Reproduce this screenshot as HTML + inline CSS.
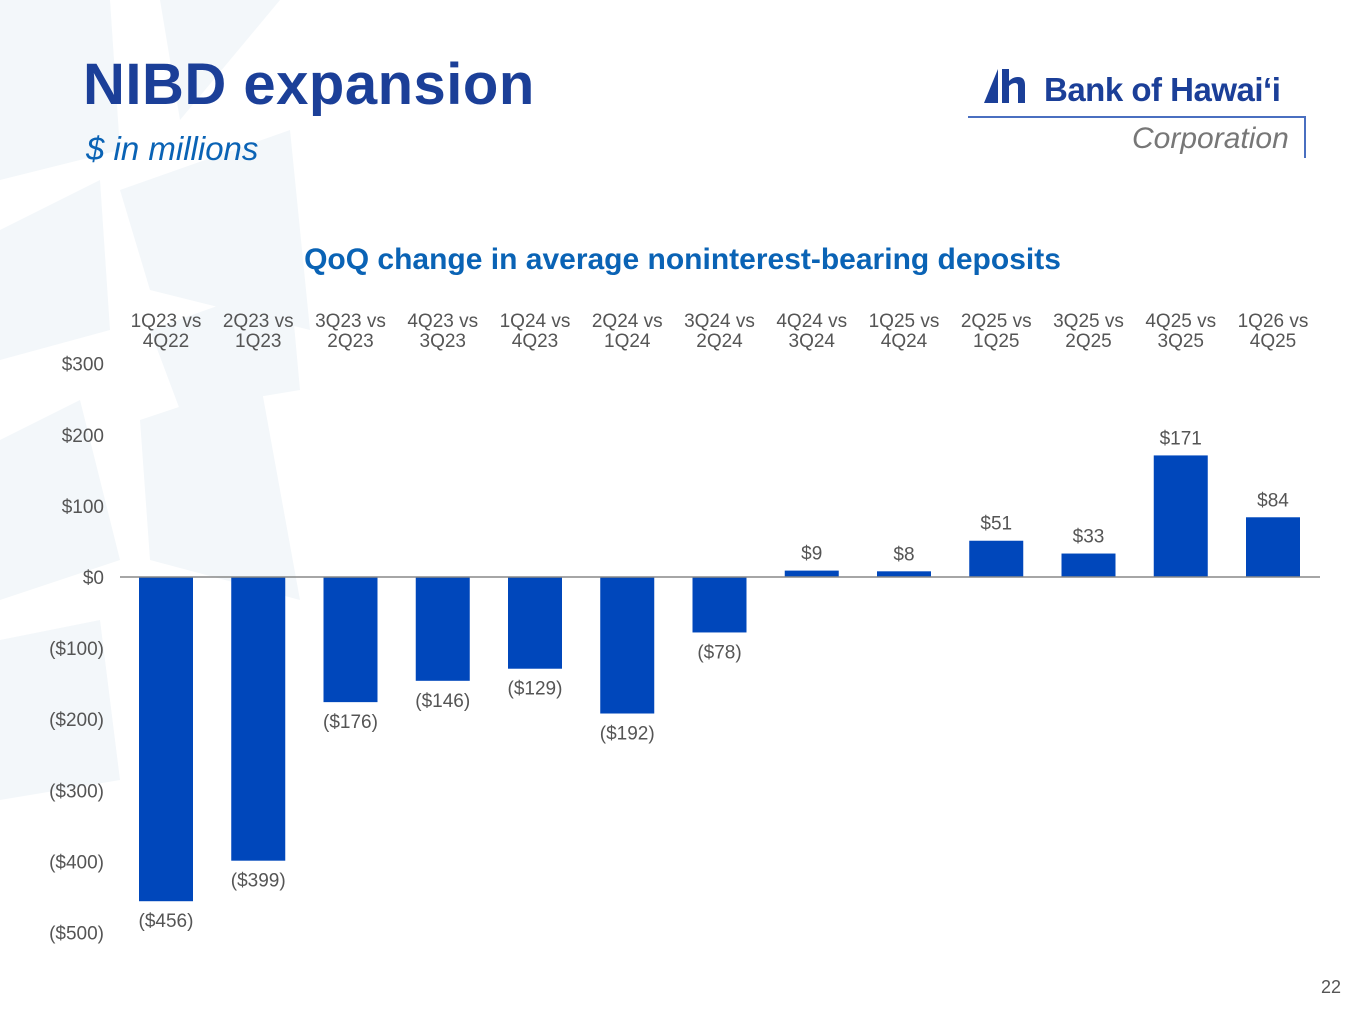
<!DOCTYPE html>
<html><head><meta charset="utf-8"><style>
html,body{margin:0;padding:0}
body{width:1365px;height:1024px;position:relative;overflow:hidden;background:#fff;font-family:"Liberation Sans",sans-serif}
.abs{position:absolute}
</style></head><body>
<svg class="abs" style="left:0;top:0" width="1365" height="1024">
<g fill="#f3f7fa">
<polygon points="0,0 110,0 120,150 0,180"/>
<polygon points="160,0 280,0 180,120"/>
<polygon points="0,230 100,180 110,330 0,360"/>
<polygon points="120,190 290,130 310,330 150,290"/>
<polygon points="0,440 80,400 120,560 0,600"/>
<polygon points="150,330 290,280 300,390 180,410"/>
<polygon points="140,420 260,380 300,600 150,560"/>
<polygon points="0,640 100,620 120,780 0,800"/>
</g>
</svg>
<div class="abs" style="left:83px;top:51px;font-size:58px;font-weight:bold;color:#1b3f98;letter-spacing:0.5px">NIBD expansion</div>
<div class="abs" style="left:86px;top:130px;font-size:33px;font-style:italic;color:#0a63b5">$ in millions</div>
<div class="abs" style="left:968px;top:66px;width:340px;height:95px">
  <svg class="abs" style="left:16px;top:3px" width="46" height="34"><polygon points="0,34 14,0 14,34" fill="#1b3f98"/><path d="M18 0h7v12q4-4 9-4q7 0 7 8v18h-7v-17q0-3-3-3q-3 0-6 3v17h-7z" fill="#1b3f98"/></svg>
  <div class="abs" style="left:76px;top:5px;font-size:33px;font-weight:bold;color:#1b3f98;letter-spacing:-0.5px">Bank of Hawai‘i</div>
  <div class="abs" style="left:0;top:50px;width:338px;height:2px;background:#4a6fc0"></div>
  <div class="abs" style="left:336px;top:50px;width:2px;height:42px;background:#4a6fc0"></div>
  <div class="abs" style="left:164px;top:56px;font-size:30px;font-style:italic;color:#777">Corporation</div>
</div>
<div class="abs" style="left:0;width:1365px;top:243px;text-align:center;font-size:30px;font-weight:bold;color:#0a63b5">QoQ change in average noninterest-bearing deposits</div>
<svg id="chart" class="abs" style="left:0;top:0" width="1365" height="1024"></svg>
<div class="abs" style="left:1321px;top:977px;font-size:18px;color:#555">22</div>
<script>
const categories=["1Q23 vs|4Q22","2Q23 vs|1Q23","3Q23 vs|2Q23","4Q23 vs|3Q23","1Q24 vs|4Q23","2Q24 vs|1Q24","3Q24 vs|2Q24","4Q24 vs|3Q24","1Q25 vs|4Q24","2Q25 vs|1Q25","3Q25 vs|2Q25","4Q25 vs|3Q25","1Q26 vs|4Q25"];
const values=[-456,-399,-176,-146,-129,-192,-78,9,8,51,33,171,84];
const ticks=[300,200,100,0,-100,-200,-300,-400,-500];
const NS="http://www.w3.org/2000/svg";
const svg=document.getElementById('chart');
const y=v=>577-v*0.711;
const x=i=>166+i*92.25;
const fmt=v=>v<0?"($"+(-v)+")":"$"+v;
function mk(t,a,txt){const e=document.createElementNS(NS,t);for(const k in a)e.setAttribute(k,a[k]);if(txt!=null)e.textContent=txt;svg.appendChild(e);return e;}
ticks.forEach(t=>{
  const e=mk('text',{x:104,y:y(t)+7,'text-anchor':'end','font-size':19,fill:'#555','font-family':'Liberation Sans'},fmt(t));
  
  
});
categories.forEach((c,i)=>{
  const [a,b]=c.split('|');
  const e=mk('text',{x:x(i),y:327,'text-anchor':'middle','font-size':19,fill:'#555','font-family':'Liberation Sans'});
  
  
  const t1=document.createElementNS(NS,'tspan');t1.setAttribute('x',x(i));t1.textContent=a;e.appendChild(t1);
  const t2=document.createElementNS(NS,'tspan');t2.setAttribute('x',x(i));t2.setAttribute('dy',20);t2.textContent=b;e.appendChild(t2);
});
values.forEach((v,i)=>{
  const r=mk('rect',{x:x(i)-27,y:Math.min(y(v),y(0)),width:54,height:Math.abs(y(v)-y(0)),fill:'#0047bb'});
  
  
  const ly=v<0?y(v)+26:y(v)-11;
  const l=mk('text',{x:x(i),y:ly,'text-anchor':'middle','font-size':19,fill:'#555','font-family':'Liberation Sans'},fmt(v));
  
  
});
const ax=mk('line',{x1:120,x2:1320,y1:y(0),y2:y(0),stroke:'#888','stroke-width':1.5});


</script>
</body></html>
